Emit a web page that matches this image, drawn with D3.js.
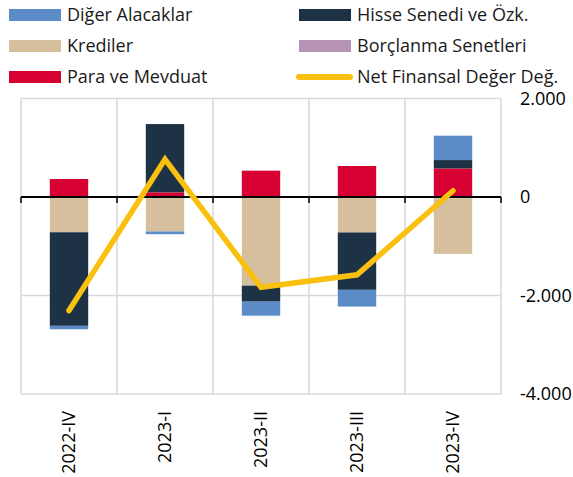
<!DOCTYPE html>
<html>
<head>
<meta charset="utf-8">
<script src="https://cdn.jsdelivr.net/npm/d3@7"></script>
<style>
  body { margin: 0; background: #fff; }
  svg { display: block; font-family: "Open Sans", sans-serif; }
</style>
</head>
<body>
<svg id="chart"></svg>
<script>
// Quarters on the x axis
var quarters = ["2022-IV", "2023-I", "2023-II", "2023-III", "2023-IV"];

// Series values
var paraMevduat = [365, 95, 535, 630, 580];
var borclanma = [0, 0, -15, -20, -25];
var krediler = [-716, -700, -1785, -700, -1130];
var hisse = [-1900, 1386, -325, -1165, 170];
var digerAlacaklar = [-70, -55, -285, -340, 495];
var netDeger = [-2306, 765, -1832, -1580, 128];

// Y axis ticks
var yTicks = [2000, 0, -2000, -4000];
var yTickLabels = ["2.000", "0", "-2.000", "-4.000"];

var seriesNames = ["Para ve Mevduat", "Borçlanma Senetleri", "Krediler", "Hisse Senedi ve Özk.", "Diğer Alacaklar"];
var seriesValues = [paraMevduat, borclanma, krediler, hisse, digerAlacaklar];
var colors = {
    "Diğer Alacaklar": "#5b8cc8",
    "Hisse Senedi ve Özk.": "#1e3246",
    "Krediler": "#d5bf9c",
    "Borçlanma Senetleri": "#b794b5",
    "Para ve Mevduat": "#d60032",
    "Net Finansal Değer Değ.": "#f9c00f"
};

var width = 573, height = 477;
var plot = { left: 21, right: 501, top: 98.5, bottom: 394 };

var svg = d3.select("#chart")
    .attr("width", width)
    .attr("height", height);

// build table for d3.stack
var table = quarters.map(function(q, i) {
    var row = { quarter: q };
    seriesNames.forEach(function(name, j) { row[name] = seriesValues[j][i]; });
    return row;
});

var stack = d3.stack()
    .keys(seriesNames)
    .offset(d3.stackOffsetDiverging);
var stacked = stack(table);

// Scales
var xScale = d3.scaleBand()
    .domain(quarters)
    .range([plot.left, plot.right])
    .padding(0);

var yScale = d3.scaleLinear()
    .domain([-4000, 2000])
    .range([plot.bottom, plot.top]);

var barWidth = xScale.bandwidth() * 0.4;

// Gridlines
var grid = svg.append("g");
grid.selectAll("line.h")
    .data(yTicks.filter(function(d) { return d !== 0; }))
    .enter().append("line")
    .attr("x1", plot.left)
    .attr("x2", plot.right)
    .attr("y1", function(d) { return yScale(d); })
    .attr("y2", function(d) { return yScale(d); })
    .attr("stroke", "#d9d9d9")
    .attr("stroke-width", 1.5);

var bounds = quarters.map(function(q) { return xScale(q); }).concat([plot.right]);
grid.selectAll("line.v")
    .data(bounds)
    .enter().append("line")
    .attr("x1", function(d) { return d; })
    .attr("x2", function(d) { return d; })
    .attr("y1", plot.top)
    .attr("y2", plot.bottom)
    .attr("stroke", "#d9d9d9")
    .attr("stroke-width", 1.5);

// Stacked bars
svg.append("g")
    .selectAll("g")
    .data(stacked)
    .enter().append("g")
    .attr("fill", function(d) { return colors[d.key]; })
    .selectAll("rect")
    .data(function(d) { return d; })
    .enter().append("rect")
    .attr("x", function(d) { return xScale(d.data.quarter) + (xScale.bandwidth() - barWidth) / 2; })
    .attr("width", barWidth)
    .attr("y", function(d) { return yScale(Math.max(d[0], d[1])); })
    .attr("height", function(d) { return Math.abs(yScale(d[0]) - yScale(d[1])); });

// Zero axis line with ticks
svg.append("line")
    .attr("x1", plot.left)
    .attr("x2", plot.right)
    .attr("y1", yScale(0))
    .attr("y2", yScale(0))
    .attr("stroke", "#000")
    .attr("stroke-width", 2);

svg.append("g")
    .selectAll("line")
    .data(bounds)
    .enter().append("line")
    .attr("x1", function(d) { return d; })
    .attr("x2", function(d) { return d; })
    .attr("y1", yScale(0))
    .attr("y2", yScale(0) + 6)
    .attr("stroke", "#000")
    .attr("stroke-width", 1.5);

// Net line
var line = d3.line()
    .x(function(d, i) { return xScale(quarters[i]) + xScale.bandwidth() / 2; })
    .y(function(d) { return yScale(d); });

svg.append("path")
    .datum(netDeger)
    .attr("d", line)
    .attr("fill", "none")
    .attr("stroke", colors["Net Finansal Değer Değ."])
    .attr("stroke-width", 5.5)
    .attr("stroke-linecap", "round")
    .attr("stroke-linejoin", "miter");

// Right y axis labels
svg.append("g")
    .selectAll("text")
    .data(yTicks)
    .enter().append("text")
    .attr("x", 520)
    .attr("y", function(d) { return yScale(d); })
    .attr("dy", "0.35em")
    .style("font-size", "18px")
    .attr("fill", "#000")
    .text(function(d, i) { return yTickLabels[i]; });

// X labels, rotated
svg.append("g")
    .selectAll("text")
    .data(quarters)
    .enter().append("text")
    .attr("transform", function(d) {
        return "translate(" + (xScale(d) + xScale.bandwidth() / 2) + ",411) rotate(-90)";
    })
    .attr("dy", "0.35em")
    .style("text-anchor", "end")
    .style("font-size", "18px")
    .attr("fill", "#000")
    .text(function(d) { return d; });

// Legend
var legendItems = [
    { name: "Diğer Alacaklar", x: 9, y: 15 },
    { name: "Krediler", x: 9, y: 46 },
    { name: "Para ve Mevduat", x: 9, y: 77 },
    { name: "Hisse Senedi ve Özk.", x: 299, y: 15 },
    { name: "Borçlanma Senetleri", x: 299, y: 46 },
    { name: "Net Finansal Değer Değ.", x: 299, y: 77, line: true }
];

var legend = svg.append("g");
legendItems.forEach(function(item) {
    if (item.line) {
        legend.append("line")
            .attr("x1", item.x)
            .attr("x2", item.x + 51)
            .attr("y1", item.y)
            .attr("y2", item.y)
            .attr("stroke", colors[item.name])
            .attr("stroke-width", 6)
            .attr("stroke-linecap", "round");
    } else {
        legend.append("rect")
            .attr("x", item.x)
            .attr("y", item.y - 6)
            .attr("width", 52)
            .attr("height", 12)
            .attr("fill", colors[item.name]);
    }
    legend.append("text")
        .attr("x", item.x + 58)
        .attr("y", item.y)
        .attr("dy", "0.35em")
        .style("font-size", "18px")
        .attr("fill", "#1a1a1a")
        .text(item.name);
});
</script>
</body>
</html>
